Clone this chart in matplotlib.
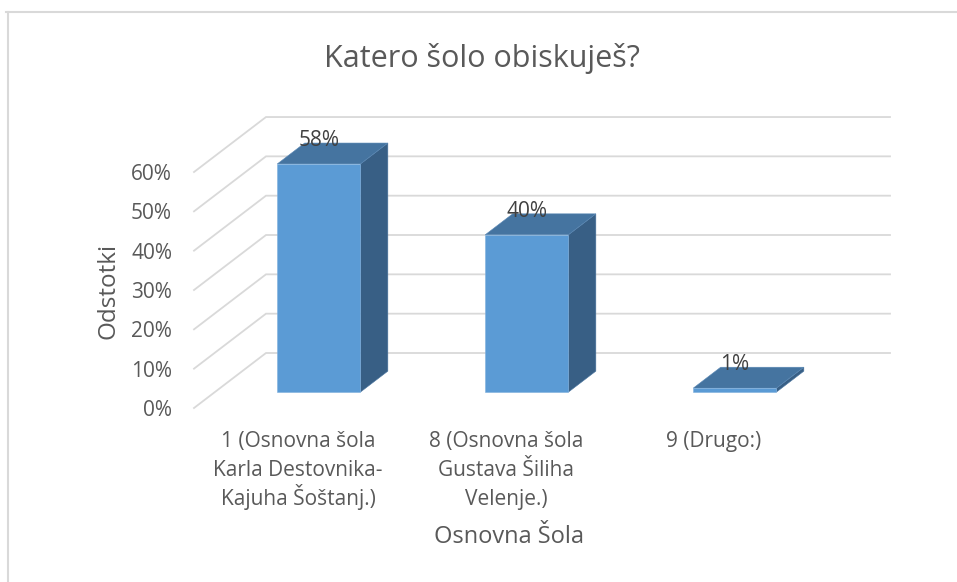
import matplotlib
matplotlib.use("Agg")
import matplotlib.pyplot as plt
from matplotlib.patches import Polygon
from matplotlib.lines import Line2D

# ---- data ----
title = "Katero šolo obiskuješ?"
categories = [
    "1 (Osnovna šola\nKarla Destovnika-\nKajuha Šoštanj.)",
    "8 (Osnovna šola\nGustava Šiliha\nVelenje.)",
    "9 (Drugo:)",
]
values = [58, 40, 1]
y_ticks = [0, 10, 20, 30, 40, 50, 60]
y_tick_labels = ["0%", "10%", "20%", "30%", "40%", "50%", "60%"]
value_labels = ["58%", "40%", "1%"]
x_title = "Osnovna Šola"
y_title = "Odstotki"

# ---- styling / geometry ----
FONT = ["Open Sans", "DejaVu Sans"]
TXT = "#595959"
GRID = "#d9d9d9"
FRONT = "#5b9bd5"
TOP = "#4574a0"
SIDE = "#385f85"

W, H = 957, 582
fig = plt.figure(figsize=(W / 100, H / 100), dpi=100)
ax = fig.add_axes([0, 0, 1, 1])
ax.set_axis_off()

# px mapping: category i front-plane center at 298 + 208*i; value 0 at y=408, 3.933 px per %
CAT_PX, X0_PX = 208.0, 298.0
VAL_PX, Y0_PX = 3.933, 408.0
ax.set_xlim(-X0_PX / CAT_PX, (W - X0_PX) / CAT_PX)
ax.set_ylim((Y0_PX - H) / VAL_PX, Y0_PX / VAL_PX)


def px_y(py):
    return (Y0_PX - py) / VAL_PX


def px_x(px):
    return (px - X0_PX) / CAT_PX


# oblique depth vector (full depth), in data units
DX = 72 / CAT_PX
DY = 55 / VAL_PX


def proj(x, y, f):
    return (x + f * DX, y + f * DY)


x_left, x_right = -0.5, 2.5

# wall gridlines
for v in y_ticks:
    a = proj(x_left, v, 0)
    b = proj(x_left, v, 1)
    c = proj(x_right, v, 1)
    ax.add_line(Line2D([a[0], b[0], c[0]], [a[1], b[1], c[1]], color=GRID, lw=1.3,
                       solid_joinstyle="miter", zorder=1))

# bars
bw = 0.4
f0, f1 = 0.29, 0.67
for i, v in enumerate(values):
    xl, xr = i - bw / 2, i + bw / 2
    front = [proj(xl, 0, f0), proj(xr, 0, f0), proj(xr, v, f0), proj(xl, v, f0)]
    side = [proj(xr, 0, f0), proj(xr, 0, f1), proj(xr, v, f1), proj(xr, v, f0)]
    top = [proj(xl, v, f0), proj(xr, v, f0), proj(xr, v, f1), proj(xl, v, f1)]
    ax.add_patch(Polygon(side, closed=True, fc=SIDE, ec="#4a75a0", lw=0.4, zorder=3))
    ax.add_patch(Polygon(top, closed=True, fc=TOP, ec="#5a88b5", lw=0.4, zorder=3))
    ax.add_patch(Polygon(front, closed=True, fc=FRONT, ec="#7fb0de", lw=0.4, zorder=4))
    cx, cy = proj(i, v, f0)
    ax.text(cx, cy + 18 / VAL_PX, value_labels[i], ha="center", va="baseline",
            fontsize=15, color="#404040", family=FONT, zorder=6)

# y tick labels
for v, lab in zip(y_ticks, y_tick_labels):
    ax.text(x_left - 22 / CAT_PX, v - 8 / VAL_PX, lab, ha="right", va="baseline",
            fontsize=15, color=TXT, family=FONT)

# category labels (one text per line, 29 px line pitch)
for i, lab in enumerate(categories):
    for k, line in enumerate(lab.split("\n")):
        ax.text(i, px_y(447 + 29 * k), line, ha="center", va="baseline", fontsize=15,
                color=TXT, family=FONT)

# axis titles
ax.text(px_x(509), px_y(543), x_title, ha="center", va="baseline",
        fontsize=17, color=TXT, family=FONT)
ax.text(px_x(108), px_y(291), y_title, ha="center", va="center",
        rotation=90, fontsize=17.5, color=TXT, family=FONT)

# chart title
fig.text(482 / W, 1 - 67 / H, title, ha="center", va="baseline", fontsize=22,
         color=TXT, family=FONT)

# frame (top and left visible)
fig.add_artist(Line2D([6 / W, 1], [1 - 12 / H, 1 - 12 / H], color="#d9d9d9", lw=1.5,
                      transform=fig.transFigure))
fig.add_artist(Line2D([8 / W, 8 / W], [1 - 12 / H, 0], color="#d9d9d9", lw=1.5,
                      transform=fig.transFigure))

fig.savefig("out.png", dpi=100, facecolor="white")
